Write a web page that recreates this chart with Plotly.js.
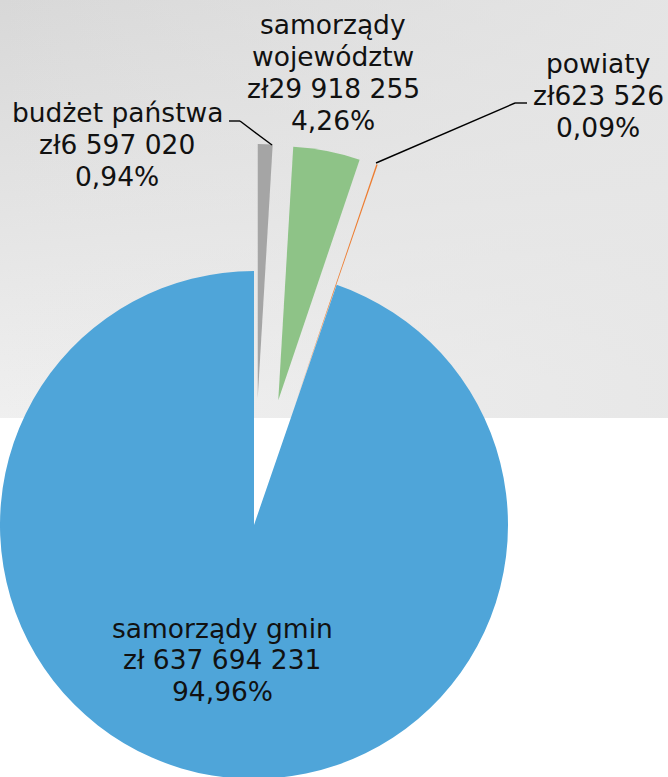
<!DOCTYPE html>
<html>
<head>
<meta charset="utf-8">
<script src="https://cdn.plot.ly/plotly-3.0.1.min.js"></script>
<style>
html, body { margin: 0; padding: 0; overflow: hidden; background: #ffffff; width: 668px; height: 777px; }
#chart { position: absolute; left: -127px; top: 0; }
</style>
</head>
<body>
<div id="chart"></div>
<script>
// ---- data ----
const categories = ['budżet państwa', 'samorządy województw', 'powiaty', 'samorządy gmin'];
const labelNames = ['budżet państwa', 'samorządy<br>województw', 'powiaty', 'samorządy gmin'];
const amounts = [6597020, 29918255, 623526, 637694231];
const currencyPrefix = ['zł', 'zł', 'zł', 'zł '];
const shares = [0.94, 4.26, 0.09, 94.96];
const colors = ['#a5a5a5', '#8ec387', '#ed7d31', '#4fa5d9'];
const pulls = [0.5, 0.5, 0.5, 0];

// ---- helpers ----
function fmtAmount(v) {
  return String(v).replace(/\B(?=(\d{3})+(?!\d))/g, ' ');
}
function fmtShare(s) {
  return s.toFixed(2).replace('.', ',') + '%';
}
// page geometry: the plot div is shifted left by 127px
const SHIFT = 127, W = 795, H = 906, TOP = 144, PH = H - TOP;
const px = x => (x + SHIFT) / W;
const py = y => 1 - (y - TOP) / PH;

// label block placement: centre x and centre y of the first line
const labelPos = [
  {x: 117, y: 113},
  {x: 333, y: 25},
  {x: 598, y: 64},
  {x: 222, y: 628}
];
const LINE = 31.7;

const annotations = [];
categories.forEach((c, i) => {
  const lines = labelNames[i].split('<br>').concat([
    currencyPrefix[i] + fmtAmount(amounts[i]),
    fmtShare(shares[i])
  ]);
  lines.forEach((t, k) => {
    annotations.push({
      xref: 'paper', yref: 'paper',
      x: px(labelPos[i].x), y: py(labelPos[i].y + k * LINE),
      xanchor: 'center', yanchor: 'middle',
      showarrow: false,
      text: t,
      font: {family: 'DejaVu Sans, Verdana, sans-serif', size: 26.5, color: '#111111'}
    });
  });
});

function seg(x0, y0, x1, y1) {
  return {type: 'line', xref: 'paper', yref: 'paper',
    x0: px(x0), y0: py(y0), x1: px(x1), y1: py(y1),
    line: {color: '#000000', width: 1.4}, layer: 'above'};
}
const shapes = [
  seg(229, 121, 240, 121), seg(240, 121, 272, 145),
  seg(376, 163, 515, 103), seg(515, 103, 527, 103)
];

const bgSvg = '<svg xmlns="http://www.w3.org/2000/svg" width="668" height="418" preserveAspectRatio="none">' +
  '<defs><linearGradient id="v" x1="0" y1="0" x2="0.15" y2="1">' +
  '<stop offset="0" stop-color="#d8d8d8"/><stop offset="1" stop-color="#f0f0f0"/></linearGradient>' +
  '<linearGradient id="h" x1="0" y1="0" x2="1" y2="0">' +
  '<stop offset="0" stop-color="#e6e6e6" stop-opacity="0"/><stop offset="1" stop-color="#e6e6e6" stop-opacity="0.85"/></linearGradient></defs>' +
  '<rect width="668" height="418" fill="url(#v)"/><rect width="668" height="418" fill="url(#h)"/></svg>';

const images = [{
  source: 'data:image/svg+xml;charset=utf-8,' + encodeURIComponent(bgSvg),
  xref: 'paper', yref: 'paper',
  x: px(0), y: py(0), sizex: px(668) - px(0), sizey: py(0) - py(418),
  xanchor: 'left', yanchor: 'top', sizing: 'stretch', layer: 'below'
}];

const trace = {
  type: 'pie',
  labels: categories,
  values: shares,
  marker: {colors: colors, line: {width: 0}},
  pull: pulls,
  sort: false,
  direction: 'clockwise',
  rotation: 0,
  textinfo: 'none',
  hoverinfo: 'none',
  domain: {x: [0, 762 / W], y: [0, 1]}
};

const layout = {
  width: W, height: H,
  margin: {l: 0, r: 0, t: TOP, b: 0, pad: 0},
  showlegend: false,
  paper_bgcolor: 'rgba(0,0,0,0)',
  plot_bgcolor: 'rgba(0,0,0,0)',
  annotations: annotations,
  shapes: shapes,
  images: images
};

Plotly.newPlot('chart', [trace], layout, {displayModeBar: false, staticPlot: true});
</script>
</body>
</html>
